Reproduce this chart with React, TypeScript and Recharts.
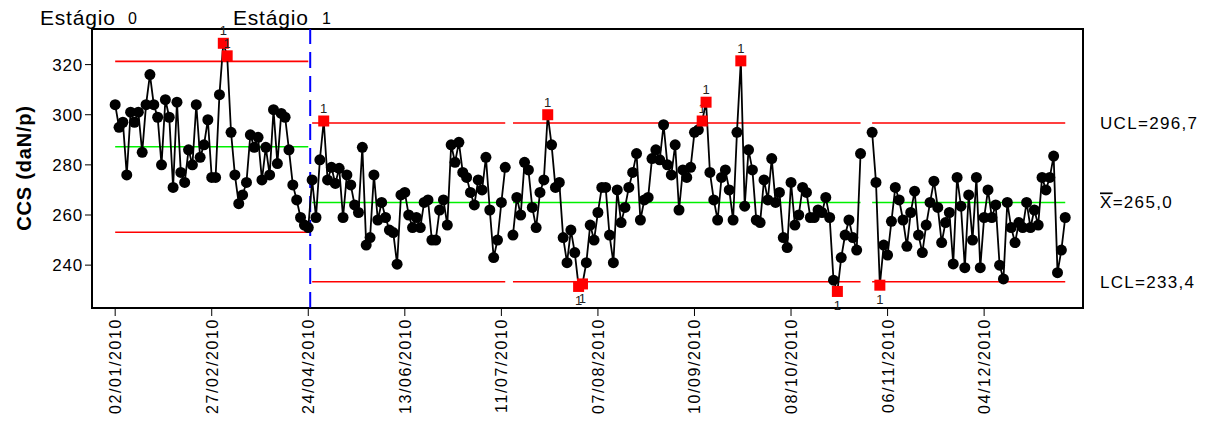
import { LineChart, Line, XAxis, YAxis, ReferenceLine, ReferenceArea } from 'recharts'

const dateTicks = [
  '02/01/2010', '27/02/2010', '24/04/2010', '13/06/2010', '11/07/2010',
  '07/08/2010', '10/09/2010', '08/10/2010', '06/11/2010', '04/12/2010',
]
const tickIdx = [0, 25, 50, 75, 100, 125, 150, 175, 200, 225]
const yTicks = [240, 260, 280, 300, 320]

// Estágio 0 (obs 0..50)
const stage0Values = [
  304, 295, 297, 276, 301, 297, 301, 285, 304, 316, 304, 299, 280, 306, 299, 271, 305,
  277, 273, 286, 280, 304, 283, 288, 298, 275, 275, 308, 328.5, 323.5, 293, 276, 264.5,
  268, 273, 292, 287, 291, 274, 287, 276, 302, 280.5, 300.5, 299, 286, 272, 266, 259, 256, 255,
]
const stage0Limits = { ucl: 321.3, cl: 287.2, lcl: 253.1 }

// Estágio 1 (obs 51..246), null = missing
const stage1Values: (number | null)[] = [
  274, 259, 282, 297.5, 274, 279, 272.6, 278.6, 259, 276, 272, 264, 261, 287, 248, 251, 276,
  258, 265, 259, 254, 253, 240.4, 268, 269, 260, 255, 259, 255, 265, 266, 250, 250, 262,
  266, 256, 288, 281, 289, 277, 275, 269, 264, 274, 270, 283, 262, 243, 250, 265, 279,
  null,
  252, 267, 260, 281, 278, 263, 255, 269, 274, 300, 288, 271, 273, 251, 241, 254, 245,
  231.5, 232.5, 241, 256, 250, 261, 271, 271, 252, 241, 270, 257, 263, 271, 277, 284.5,
  258, 266, 267, 282.5, 286, 282, 296, 280, 276, 288, 262, 278, 275, 279, 293, 294,
  297.5, 305, 277, 266, 258, 275, 278, 270, 258, 293, 321.5, 263.5, 286, 278, 258, 257,
  274, 266, 282.5, 265, 269, 251, 247, 273, 256, 260, 271, 269, 259, 259, 262, 261, 267,
  259, 234, 229.5, 243, 252, 258, 251, 246, 284.5,
  null, null,
  293, 273, 232, 248, 244, 257.5, 271, 266, 258, 247.5, 261, 269.5, 252, 245, 256, 265,
  273.5, 263, 249, 257, 261, 240.5, 275, 263.5, 239, 268, 250, 275, 239, 259, 270, 259,
  264, 240, 234.5, 265, 255, 249, 257, 255, 265, 255, 262, 256, 275, 270, 275, 283.5,
  237, 246, 259,
]
const stage1Limits = { ucl: 296.7, cl: 265.0, lcl: 233.4 }

const data = [...stage0Values, ...stage1Values].map((v, i) => {
  const s0 = i < stage0Values.length
  const has = v !== null
  return {
    i,
    ccs: v,
    ucl0: s0 ? stage0Limits.ucl : null,
    cl0: s0 ? stage0Limits.cl : null,
    lcl0: s0 ? stage0Limits.lcl : null,
    ucl1: !s0 && has ? stage1Limits.ucl : null,
    cl1: !s0 && has ? stage1Limits.cl : null,
    lcl1: !s0 && has ? stage1Limits.lcl : null,
  }
})

const font = '"Liberation Sans", Arial, sans-serif'

function PointDot(props: any) {
  const { cx, cy, payload, index } = props
  if (cx == null || cy == null || payload.ccs == null) return <g key={index} />
  const lim = payload.i < stage0Values.length ? stage0Limits : stage1Limits
  const v = payload.ccs
  if (v > lim.ucl || v < lim.lcl) {
    const high = v > lim.ucl
    return (
      <g key={index}>
        <rect x={cx - 5.5} y={cy - 5.5} width={11} height={11} fill="#ff0000" />
        <text x={cx} y={high ? cy - 8 : cy + 19} textAnchor="middle" fontSize={13} fill="#222" fontFamily={font}>1</text>
      </g>
    )
  }
  return <circle key={index} cx={cx} cy={cy} r={5.5} fill="#000" />
}

function DateTick(props: any) {
  const { x, y, payload } = props
  const k = tickIdx.indexOf(payload.value)
  return (
    <g transform={`translate(${x},${y})`}>
      <text x={0} y={0} dy={6} textAnchor="end" transform="rotate(-90)" fontSize={16} letterSpacing={1.6} fill="#000" fontFamily={font}>
        {dateTicks[k]}
      </text>
    </g>
  )
}

function SideLabel(props: any) {
  const { viewBox, text, bar } = props
  const y = viewBox.y
  return (
    <text x={1100} y={y + 6} fontSize={17} fill="#000" fontFamily={font} letterSpacing={1.3}>
      {bar ? (
        <>
          <tspan textDecoration="overline">X</tspan>
          {text}
        </>
      ) : text}
    </text>
  )
}

export default function App() {
  const line = { type: 'linear' as const, dot: false, isAnimationActive: false, strokeWidth: 1.6, activeDot: false }
  return (
    <div style={{ position: 'absolute', left: 0, top: 0, width: 1207, height: 423, background: '#fff' }}>
      <LineChart width={1207} height={423} data={data} margin={{ top: 29, right: 124, bottom: 5, left: 32 }}>
        <XAxis
          dataKey="i" type="number" domain={[-6, 250.6]} ticks={tickIdx} tick={<DateTick />}
          tickSize={8} height={110} axisLine={{ stroke: '#000' }} tickLine={{ stroke: '#000' }} interval={0}
        />
        <YAxis
          type="number" domain={[222.9, 334.2]} ticks={yTicks} width={60} tickSize={7}
          tick={{ fontSize: 17, fill: '#000', fontFamily: font, letterSpacing: 0.8 }} axisLine={{ stroke: '#000' }} tickLine={{ stroke: '#000' }}
        />
        <ReferenceArea x1={-6} x2={250.6} y1={222.9} y2={334.2} fill="none" stroke="#000" strokeWidth={2} />
        <ReferenceLine y={stage1Limits.ucl} stroke="none" label={<SideLabel text="UCL=296,7" />} />
        <ReferenceLine y={stage1Limits.cl} stroke="none" label={<SideLabel text="=265,0" bar />} />
        <ReferenceLine y={stage1Limits.lcl} stroke="none" label={<SideLabel text="LCL=233,4" />} />
        <ReferenceLine x={50.5} stroke="#0000ff" strokeWidth={2} strokeDasharray="16 8" />
        <Line {...line} dataKey="ucl0" stroke="#ff0000" />
        <Line {...line} dataKey="lcl0" stroke="#ff0000" />
        <Line {...line} dataKey="cl0" stroke="#00f000" />
        <Line {...line} dataKey="ucl1" stroke="#ff0000" />
        <Line {...line} dataKey="lcl1" stroke="#ff0000" />
        <Line {...line} dataKey="cl1" stroke="#00f000" />
        <Line
          type="linear" dataKey="ccs" stroke="#000" strokeWidth={1.8} isAnimationActive={false}
          dot={(p: any) => <PointDot {...p} />} activeDot={false}
        />
      </LineChart>
      <svg width={1207} height={423} style={{ position: 'absolute', left: 0, top: 0, pointerEvents: 'none' }}>
        <text x={40} y={25} fontSize={21} letterSpacing={0.8} fontFamily={font}>Estágio</text>
        <text x={128} y={24} fontSize={16} fontFamily={font}>0</text>
        <text x={233} y={25} fontSize={21} letterSpacing={0.8} fontFamily={font}>Estágio</text>
        <text x={322} y={24} fontSize={16} fontFamily={font}>1</text>
        <text x={0} y={0} transform="translate(31,168) rotate(-90)" textAnchor="middle" fontSize={20} letterSpacing={0.8} fontWeight="bold" fontFamily={font}>
          CCS (daN/p)
        </text>
      </svg>
    </div>
  )
}
